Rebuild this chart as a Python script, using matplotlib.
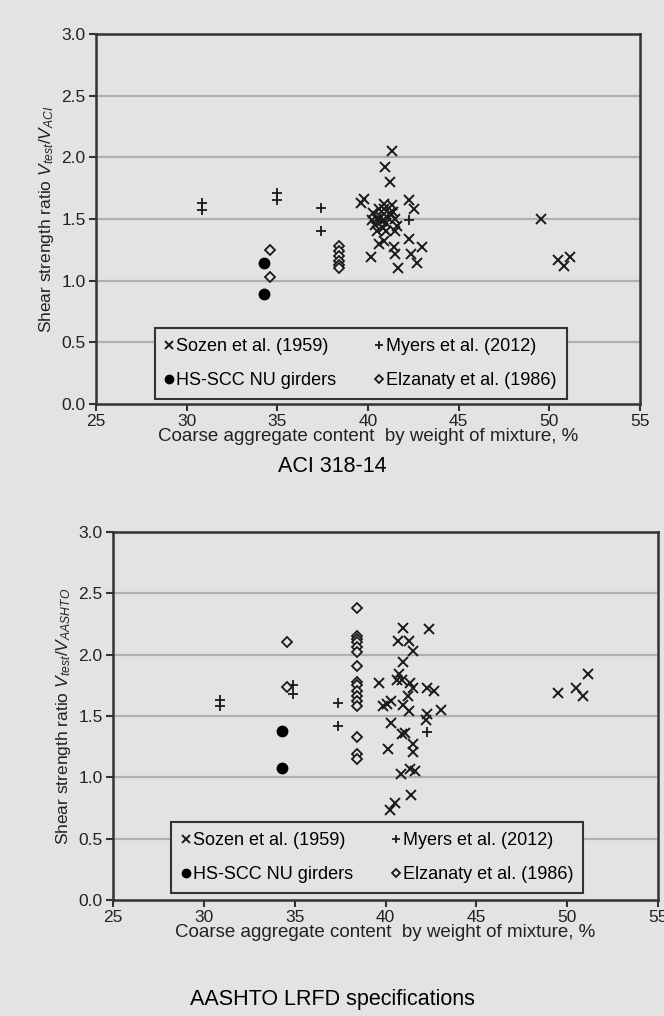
import matplotlib
matplotlib.use("Agg")
import matplotlib.pyplot as plt

plt.rcParams['font.family'] = ['Liberation Sans', 'DejaVu Sans']
plt.rcParams['mathtext.fontset'] = 'custom'
plt.rcParams['mathtext.rm'] = 'Liberation Sans'
plt.rcParams['mathtext.it'] = 'Liberation Sans:italic'

# ---------------- data: ACI 318-14 ----------------
aci_sozen_x = [41.33, 40.92, 41.2, 39.80, 39.63, 42.25, 42.52,
               40.3, 40.5, 40.7, 40.9, 41.0, 41.2, 41.3, 40.4, 40.8, 41.5, 41.6, 40.6,
               41.1, 40.2, 41.4, 40.75, 40.5, 41.0, 41.5, 40.9,
               40.87, 40.6, 41.42, 41.51, 42.25, 42.98, 42.37, 42.7, 40.17, 41.64,
               49.55, 50.46, 50.83, 51.16]
aci_sozen_y = [2.05, 1.92, 1.80, 1.66, 1.63, 1.65, 1.58,
               1.55, 1.50, 1.52, 1.58, 1.47, 1.55, 1.61, 1.45, 1.43, 1.50, 1.44, 1.58,
               1.51, 1.49, 1.56, 1.48, 1.40, 1.40, 1.40, 1.62,
               1.32, 1.30, 1.27, 1.22, 1.34, 1.27, 1.22, 1.14, 1.19, 1.10,
               1.50, 1.17, 1.12, 1.19]
aci_myers_x = [30.85, 30.85, 34.97, 34.97, 37.4, 37.4, 42.28]
aci_myers_y = [1.63, 1.57, 1.71, 1.65, 1.59, 1.40, 1.49]
aci_nu_x = [34.28, 34.28]
aci_nu_y = [1.14, 0.89]
aci_elz_x = [34.6, 34.6, 38.39, 38.39, 38.39, 38.39, 38.39, 38.39]
aci_elz_y = [1.25, 1.03, 1.28, 1.24, 1.20, 1.16, 1.13, 1.10]

# ---------------- data: AASHTO LRFD ----------------
aas_sozen_x = [40.98, 42.39, 40.67, 41.31, 41.53, 40.94, 40.76, 40.61, 39.66, 40.89,
               41.35, 41.53, 42.26, 42.68, 41.25, 40.3, 40.06, 39.84, 40.94, 41.31,
               43.03, 42.30, 42.23, 40.3, 40.89, 41.07, 40.15, 41.49, 41.49, 41.35,
               41.62, 40.85, 41.4, 40.52, 40.25,
               49.51, 50.48, 50.85, 51.13]
aas_sozen_y = [2.22, 2.21, 2.11, 2.11, 2.03, 1.94, 1.84, 1.79, 1.77, 1.79,
               1.77, 1.73, 1.73, 1.70, 1.66, 1.62, 1.60, 1.58, 1.59, 1.54,
               1.55, 1.52, 1.47, 1.44, 1.35, 1.36, 1.23, 1.27, 1.21, 1.07,
               1.05, 1.03, 0.86, 0.79, 0.73,
               1.69, 1.73, 1.66, 1.84]
aas_myers_x = [30.89, 30.89, 34.92, 34.92, 37.4, 37.4, 42.30]
aas_myers_y = [1.63, 1.58, 1.75, 1.68, 1.61, 1.42, 1.37]
aas_nu_x = [34.28, 34.28]
aas_nu_y = [1.38, 1.08]
aas_elz_x = [34.59, 34.56] + [38.41] * 16
aas_elz_y = [2.10, 1.74, 2.38, 2.15, 2.13, 2.10, 2.06, 2.02, 1.91, 1.78, 1.75,
             1.70, 1.66, 1.62, 1.58, 1.33, 1.19, 1.15]

labels = ["Sozen et al. (1959)", "Myers et al. (2012)",
          "HS-SCC NU girders", "Elzanaty et al. (1986)"]
xticks = [25, 30, 35, 40, 45, 50, 55]
yticks = [0.0, 0.5, 1.0, 1.5, 2.0, 2.5, 3.0]

BG = '#e3e3e3'
DARK = '#333333'
GRID = '#b3aea9'

fig = plt.figure(figsize=(6.64, 10.16), dpi=100, facecolor=BG)


def panel(rect, sx, sy, mx, my, nx, ny, ex, ey, ylabel, caption, cap_y, leg_anchor):
    ax = fig.add_axes(rect)
    ax.set_facecolor(BG)
    ax.set_xlim(25, 55)
    ax.set_ylim(0, 3.0)
    ax.set_xticks(xticks)
    ax.set_yticks(yticks)
    ax.set_yticklabels([f"{v:.1f}" for v in yticks])
    for v in yticks[1:-1]:
        ax.axhline(v, color=GRID, lw=1.6, zorder=0)
    for s in ax.spines.values():
        s.set_color(DARK)
        s.set_linewidth(1.8)
    ax.tick_params(direction='out', length=5, width=1.5, color=DARK,
                   labelsize=12.5, labelcolor='#222222', pad=2.5)
    h1, = ax.plot(sx, sy, ls='none', marker='x', ms=6.5, mew=1.4, color='#1a1a1a', label=labels[0], zorder=3)
    h2, = ax.plot(mx, my, ls='none', marker='+', ms=7, mew=1.3, color='#1a1a1a', label=labels[1], zorder=3)
    h3, = ax.plot(nx, ny, ls='none', marker='o', ms=7.5, color='black', label=labels[2], zorder=3)
    h4, = ax.plot(ex, ey, ls='none', marker='D', ms=5, mew=1.3, mfc=BG, mec='#1a1a1a', label=labels[3], zorder=3)
    leg = ax.legend(handles=[h1, h3, h2, h4], ncol=2, loc='lower left',
                    bbox_to_anchor=leg_anchor, borderaxespad=0,
                    fontsize=13, handlelength=0.5, handletextpad=0.15,
                    labelspacing=0.95, borderpad=0.55, columnspacing=2.1,
                    fancybox=False, framealpha=1, facecolor=BG, edgecolor=DARK,
                    markerscale=0.8)
    leg.get_frame().set_linewidth(1.5)
    leg.set_zorder(5)
    ax.set_xlabel("Coarse aggregate content  by weight of mixture, %", fontsize=13.5,
                  color='#222222', labelpad=-1)
    ax.set_ylabel(ylabel, fontsize=12.5, color='#222222', labelpad=4)
    fig.text(0.5, cap_y, caption, ha='center', va='center', fontsize=15.5, color='black')
    return ax


panel([96 / 664, 1 - 404 / 1016, 544 / 664, 370 / 1016],
      aci_sozen_x, aci_sozen_y, aci_myers_x, aci_myers_y, aci_nu_x, aci_nu_y,
      aci_elz_x, aci_elz_y,
      r"Shear strength ratio $V_{test}/V_{ACI}$", "ACI 318-14", 1 - 466 / 1016,
      (0.108, 0.0135))

panel([113 / 664, 1 - 900 / 1016, 545 / 664, 368 / 1016],
      aas_sozen_x, aas_sozen_y, aas_myers_x, aas_myers_y, aas_nu_x, aas_nu_y,
      aas_elz_x, aas_elz_y,
      r"Shear strength ratio $V_{test}/V_{AASHTO}$", "AASHTO LRFD specifications",
      1 - 1000 / 1016, (0.107, 0.019))

fig.savefig("out.png", dpi=100, facecolor=BG)
